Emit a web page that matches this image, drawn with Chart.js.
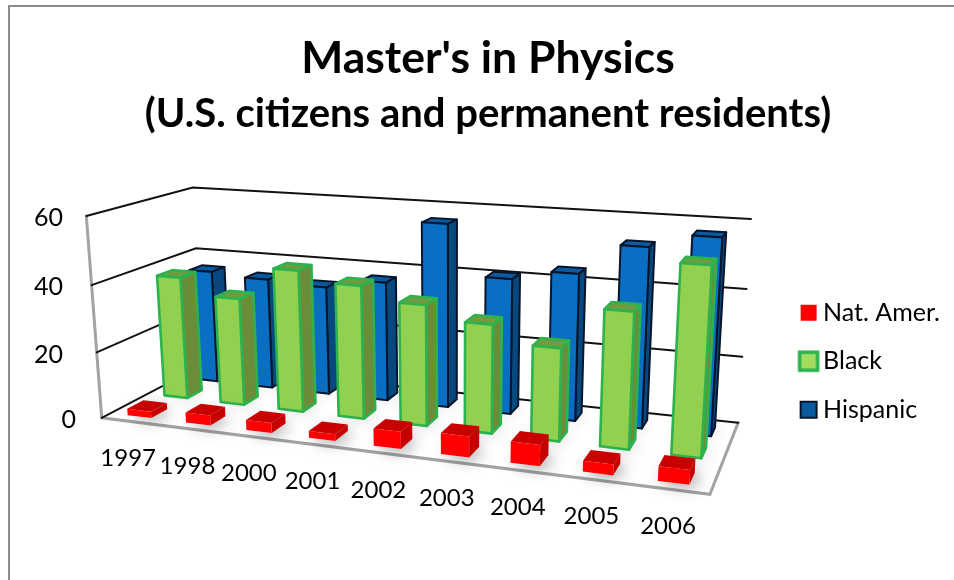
<!DOCTYPE html>
<html>
<head>
<meta charset="utf-8">
<style>
html,body{margin:0;padding:0;background:#fff}
canvas{display:block}
</style>
<script src="https://cdn.jsdelivr.net/npm/chart.js@4"></script>
</head>
<body>
<canvas id="chart" width="954" height="580"></canvas>
<script>
// Degrees by year and group
const categories = ['1997','1998','2000','2001','2002','2003','2004','2005','2006'];
const natAmer  = [2, 3, 3, 2, 5, 6, 6, 3, 4];
const black    = [38, 33, 43, 40, 36, 32, 27, 39, 53];
const hispanic = [36, 35, 34, 37, 56, 41, 44, 53, 57];
const seriesNames = ["Nat. Amer.", "Black", "Hispanic"];
const yAxisMax = 60;
const yAxisStep = 20;

// Box placement along the floor depth (0 = front edge, 1 = back wall)
const depthFront = [0.08, 0.43, 0.75];
const depthSize = [0.15, 0.15, 0.14];

const looks = [
  {front:'#ff0000', side:'#c40000', top:'#c80000', edge:null,      edgeWidth:0,   shadow:'rgba(0,0,0,0.5)'},
  {front:'#92d050', side:'#6b8c38', top:'#6f9c3e', edge:'#2cb34e', edgeWidth:2.6, shadow:'rgba(0,0,0,0.18)'},
  {front:'#0a6fc2', side:'#07487f', top:'#0b5a9f', edge:'#06152b', edgeWidth:2,   shadow:'rgba(0,0,0,0.12)'}
];

// Screen anchors of the scene's box corners as [u, v, depth, screenX, screenY]
const anchors = [
  [0,0,0,101,418],[0,1,0,87,216],[0,1,1,192,187.5],[0,0,1,203,365],
  [1,1,1,751,219],[1,0,1,738,423],[1,0,0,710,494]
];

// Least-squares fit of a 3x4 perspective camera through the anchors
function fitCamera(points){
  const n = 11, A = Array.from({length:n},()=>new Array(n+1).fill(0));
  const add = (row,rhs)=>{
    for(let i=0;i<n;i++){
      for(let j=0;j<n;j++) A[i][j]+=row[i]*row[j];
      A[i][n]+=row[i]*rhs;
    }
  };
  points.forEach(([x,y,z,sx,sy])=>{
    const X=sx/1000,Y=sy/1000;
    add([x,y,z,1,0,0,0,0,-X*x,-X*y,-X*z],X);
    add([0,0,0,0,x,y,z,1,-Y*x,-Y*y,-Y*z],Y);
  });
  for(let c=0;c<n;c++){
    let p=c;
    for(let r=c+1;r<n;r++) if(Math.abs(A[r][c])>Math.abs(A[p][c])) p=r;
    [A[c],A[p]]=[A[p],A[c]];
    for(let r=0;r<n;r++){
      if(r===c) continue;
      const f=A[r][c]/A[c][c];
      for(let k=c;k<=n;k++) A[r][k]-=f*A[c][k];
    }
  }
  return A.map((row,i)=>row[n]/row[i]);
}
const cam = fitCamera(anchors);
function project(u,v,z){
  const w = cam[8]*u+cam[9]*v+cam[10]*z+1;
  return [1000*(cam[0]*u+cam[1]*v+cam[2]*z+cam[3])/w,
          1000*(cam[4]*u+cam[5]*v+cam[6]*z+cam[7])/w];
}
function poly(ctx,pts){
  ctx.beginPath();
  pts.forEach((p,i)=>i?ctx.lineTo(p[0],p[1]):ctx.moveTo(p[0],p[1]));
  ctx.closePath();
}

// Bar controller that renders each bar as a box in the projected scene
class Bar3DController extends Chart.BarController {
  draw(){
    const ctx=this._ctx, area=this.chart.chartArea, look=looks[this.index];
    const z0=depthFront[this.index], z1=z0+depthSize[this.index];
    this.getMeta().data.forEach(bar=>{
      const u0=(bar.x-bar.width/2-area.left)/area.width;
      const u1=(bar.x+bar.width/2-area.left)/area.width;
      const vt=(area.bottom-bar.y)/area.height;
      const vb=(area.bottom-bar.base)/area.height;
      const p=(u,v,z)=>project(u,v,z);

      ctx.save();
      ctx.shadowColor=look.shadow; ctx.shadowBlur=16; ctx.shadowOffsetX=4; ctx.shadowOffsetY=1;
      ctx.fillStyle='#fff';
      poly(ctx,[p(u0,vb,z0),p(u1,vb,z0),p(u1,vb,z1),p(u0,vb,z1)]);
      ctx.fill();
      ctx.restore();

      const top=[p(u0,vt,z0),p(u1,vt,z0),p(u1,vt,z1),p(u0,vt,z1)];
      const side=[p(u1,vb,z0),p(u1,vb,z1),p(u1,vt,z1),p(u1,vt,z0)];
      const front=[p(u0,vb,z0),p(u1,vb,z0),p(u1,vt,z0),p(u0,vt,z0)];
      [[top,look.top],[side,look.side],[front,look.front]].forEach(([pts,colour])=>{
        ctx.fillStyle=colour;
        poly(ctx,pts);
        ctx.fill();
        if(look.edge){
          ctx.strokeStyle=look.edge; ctx.lineWidth=look.edgeWidth; ctx.lineJoin='round';
          ctx.stroke();
        }
      });
    });
  }
}
Bar3DController.id='bar3d';
Bar3DController.defaults=Chart.BarController.defaults;
Bar3DController.overrides=Chart.BarController.overrides;
Chart.register(Bar3DController);

const labelFont='Lato, Carlito, sans-serif';

// Page rule, walls, floor, gridlines and axis labels of the scene
const scenePlugin={
  id:'scene',
  beforeDatasetsDraw(chart){
    const {ctx,scales:{x,y}}=chart;
    ctx.save();
    ctx.strokeStyle='#8c8c8c'; ctx.lineWidth=2;
    ctx.beginPath();
    ctx.moveTo(9,580); ctx.lineTo(9,6); ctx.lineTo(954,6);
    ctx.stroke();

    const B=project(0,0,0),A=project(0,1,0),G=project(1,0,1),F=project(1,0,0);
    ctx.lineCap='round';
    // floor rim and front wall post
    ctx.strokeStyle='#a3a3a3'; ctx.lineWidth=3;
    ctx.beginPath();
    ctx.moveTo(A[0],A[1]); ctx.lineTo(B[0],B[1]); ctx.lineTo(F[0],F[1]); ctx.lineTo(G[0],G[1]);
    ctx.stroke();

    // gridlines across the side wall and the back wall
    ctx.strokeStyle='#111'; ctx.lineWidth=2;
    y.ticks.forEach(t=>{
      const v=t.value/yAxisMax;
      const a=project(0,v,0),b=project(0,v,1),c=project(1,v,1);
      ctx.beginPath();
      ctx.moveTo(a[0],a[1]); ctx.lineTo(b[0],b[1]); ctx.lineTo(c[0],c[1]);
      ctx.stroke();
    });

    // tick labels
    ctx.fillStyle='#000';
    ctx.textBaseline='middle';
    ctx.font='25px '+labelFont;
    ctx.textAlign='right';
    y.ticks.forEach(t=>{
      const a=project(0,t.value/yAxisMax,0);
      ctx.fillText(String(t.value), t.value===0?76:63, a[1]+2);
    });
    ctx.font='24px '+labelFont;
    ctx.textAlign='center';
    x.getLabels().forEach((label,i)=>{
      const u=(x.getPixelForValue(i)-chart.chartArea.left)/chart.chartArea.width;
      const a=project(u,0,0);
      ctx.fillText(label,a[0]-2.5,a[1]+37);
    });
    ctx.restore();
  }
};

// Legend swatches
function swatch(size,fill,stroke,lineWidth){
  const c=document.createElement('canvas'); c.width=24; c.height=24;
  const g=c.getContext('2d'), o=(24-size)/2;
  g.fillStyle=fill; g.fillRect(o,o,size,size);
  if(stroke){ g.strokeStyle=stroke; g.lineWidth=lineWidth; g.strokeRect(o,o,size,size); }
  return c;
}
const swatches=[
  swatch(16,'#ff0000',null,0),
  swatch(18,'#a4dc60','#2cb34e',3.5),
  swatch(16,'#0a5a9f','#06152b',2)
];

new Chart(document.getElementById('chart'),{
  type:'bar3d',
  data:{
    labels:categories,
    datasets:[
      {label:seriesNames[0],data:natAmer},
      {label:seriesNames[1],data:black},
      {label:seriesNames[2],data:hispanic}
    ].map(d=>Object.assign(d,{grouped:false,categoryPercentage:1,barPercentage:0.41}))
  },
  plugins:[scenePlugin],
  options:{
    responsive:false,
    animation:false,
    events:[],
    devicePixelRatio:1,
    layout:{padding:{left:26,right:4,top:0,bottom:0}},
    scales:{
      x:{display:false},
      y:{display:false,min:0,max:yAxisMax,ticks:{stepSize:yAxisStep}}
    },
    plugins:{
      tooltip:{enabled:false},
      title:{display:true,text:"Master's in Physics",color:'#000',
        font:{family:labelFont,size:44.5,weight:'bold'},padding:{top:32,bottom:5}},
      subtitle:{display:true,text:'(U.S. citizens and permanent residents)',color:'#000',
        font:{family:labelFont,size:40,weight:'bold'},padding:{top:0,bottom:4}},
      legend:{
        position:'right',
        fullSize:false,
        labels:{
          usePointStyle:true,boxWidth:4,boxHeight:16,padding:23.5,color:'#000',
          font:{family:labelFont,size:25},
          generateLabels:()=>seriesNames.map((text,i)=>({text,pointStyle:swatches[i],datasetIndex:i,fontColor:'#000'}))
        }
      }
    }
  }
});
</script>
</body>
</html>
